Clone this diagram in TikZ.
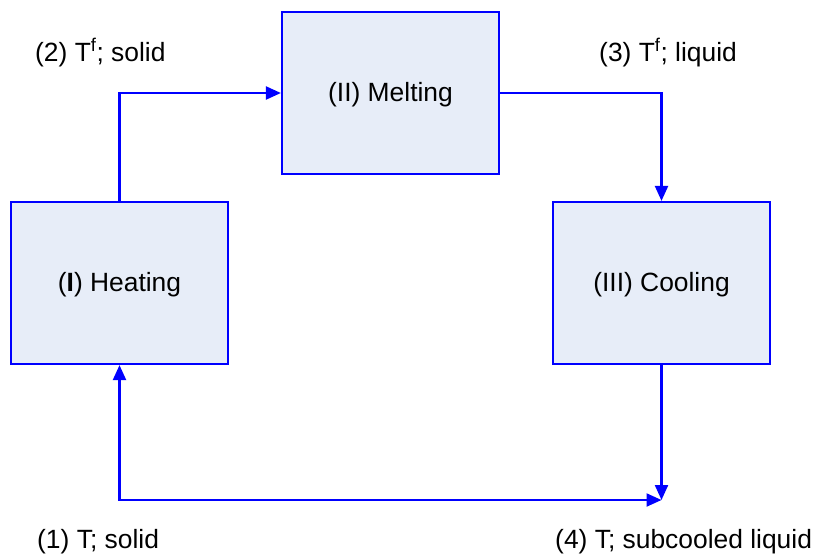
\documentclass[tikz,border=0pt]{standalone}
\usepackage{fontspec}
\setmainfont{Liberation Sans}
\usetikzlibrary{arrows.meta}
\definecolor{flowblue}{RGB}{0,0,255}
\definecolor{boxfill}{RGB}{231,237,248}
\tikzset{tip/.tip={Triangle[length=15pt,width=13pt]}}
\begin{document}
\begin{tikzpicture}[x=1pt,y=-1pt,
  stage/.style={draw=flowblue, line width=2.2pt, fill=boxfill,
    minimum width=217pt, minimum height=162pt, inner sep=0pt,
    text height=23pt, text depth=5.5pt,
    font=\fontsize{26.4}{30}\selectfont},
  flow/.style={draw=flowblue, line width=2.2pt, -tip},
  tag/.style={font=\fontsize{26.4}{30}\selectfont, inner sep=0pt, anchor=base west}]
  \useasboundingbox (0,0) rectangle (818,555);

  % process stages
  \node[stage] (heat) at (119.5,283) {(\textbf{I}) Heating};
  \node[stage] (melt) at (390.5,93) {(II) Melting};
  \node[stage] (cool) at (661.5,283) {(III) Cooling};

  % end state of the cycle
  \coordinate (sub) at (661.5,500);

  % streams between stages
  \draw[flow] (heat.north) |- (melt.west);
  \draw[flow] (melt.east) -| (cool.north);
  \draw[flow] (cool.south) -- (sub);
  \draw[flow, tip-tip] (heat.south) |- (sub);

  % stream states
  \node[tag] (s1) at (37,548) {(1) T; solid};
  \node[tag] (s2) at (35,61) {(2) T\textsuperscript{f}; solid};
  \node[tag] (s3) at (599,61) {(3) T\textsuperscript{f}; liquid};
  \node[tag] (s4) at (555,548) {(4) T; subcooled liquid};
\end{tikzpicture}
\end{document}
